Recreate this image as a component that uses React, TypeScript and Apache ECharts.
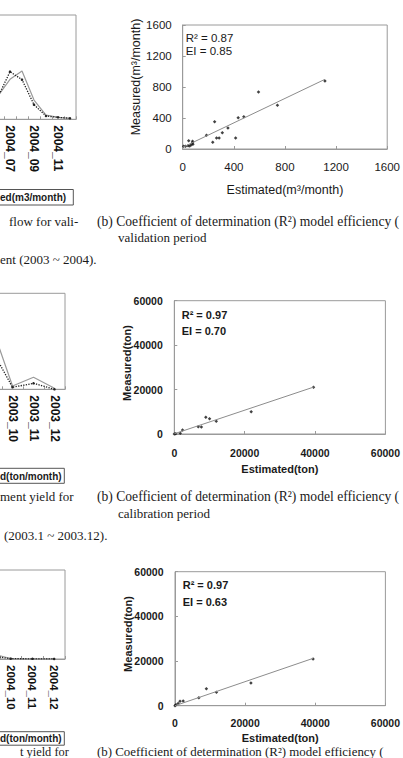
import React, { useEffect, useRef } from "react";
import * as echarts from "echarts";

// ---- left line charts (cut off at the page edge) ----
const flowMonths = ["2004_06", "2004_07", "2004_08", "2004_09", "2004_10", "2004_11", "2004_12"];
const flowEstimated = [450, 767, 926, 370, 82, 38, 19];
const flowMeasured = [430, 913, 760, 280, 63, 38, 19];

const calMonths = ["2003_09", "2003_10", "2003_11", "2003_12"];
const calEstimated = [26600, 1375, 5000, 417];
const calMeasured = [16800, 833, 2500, 0];

const valMonths = ["2004_09", "2004_10", "2004_11", "2004_12"];
const valEstimated = [2700, 225, 100, 50];
const valMeasured = [1500, 150, 80, 40];

// ---- right scatter charts: [estimated, measured] ----
const flowScatter = [
  [1113, 877], [593, 735], [741, 565], [250, 352], [434, 404], [478, 417], [354, 271],
  [310, 210], [186, 176], [265, 142], [285, 142], [414, 142], [235, 86], [47, 107],
  [77, 99], [77, 80], [67, 55], [42, 43], [22, 35], [7, 35], [55, 40], [80, 60],
];
const flowTrend = [[0, 22], [1113, 899]];

const calScatter = [
  [39570, 21030], [21850, 10050], [11920, 5700], [8960, 7520], [10030, 6900],
  [6800, 3300], [7700, 3150], [2340, 1800], [1700, 300], [0, 0], [400, 100],
];
const calTrend = [[0, 100], [39570, 21100]];

const valScatter = [
  [39380, 20900], [21660, 10150], [11810, 5990], [8950, 7600], [6800, 3600],
  [2330, 2100], [1430, 1950], [900, 1000], [270, 450], [0, 0],
];
const valTrend = [[0, 0], [39380, 21200]];

const flowAxisMax = 1600;
const flowAxisStep = 400;
const tonAxisMax = 60000;
const tonAxisStep = 20000;
const flowLineMax = 2000;
const tonLineMax = 40000;

const SANS = "Liberation Sans";
const SERIF = "Liberation Serif";
const GRAY = "#9a9a9a";
// the canvas extends past the page's left edge so the left charts are cut off there
const OX = 40;

function lineXAxis(gi: number, data: string[], intervalFn: (i: number) => boolean, fs: number) {
  return {
    gridIndex: gi,
    type: "category",
    data,
    boundaryGap: true,
    axisLine: { lineStyle: { color: GRAY } },
    axisTick: { show: true, inside: true, length: 3, interval: 0, lineStyle: { color: GRAY } },
    axisLabel: {
      rotate: -90,
      interval: (i: number) => intervalFn(i),
      margin: 6,
      fontFamily: SANS,
      fontWeight: "bold",
      fontSize: fs,
      color: "#111",
    },
    splitLine: { show: false },
  };
}

function lineYAxis(gi: number, max: number) {
  return {
    gridIndex: gi,
    type: "value",
    min: 0,
    max,
    axisLine: { show: false },
    axisTick: { show: false },
    axisLabel: { show: false },
    splitLine: { show: false },
  };
}

function scatterAxis(gi: number, max: number, step: number, bold: boolean, fs: number, margin: number, extra: any) {
  return {
    gridIndex: gi,
    type: "value",
    min: 0,
    max,
    interval: step,
    axisLine: { lineStyle: { color: GRAY } },
    axisTick: { inside: true, length: 3, lineStyle: { color: GRAY } },
    axisLabel: {
      margin,
      color: "#1a1a1a",
      fontFamily: SANS,
      fontSize: fs,
      fontWeight: bold ? "bold" : "normal",
      formatter: (v: number) => String(v),
    },
    splitLine: { show: false },
    ...extra,
  };
}

function txt(text: string, x: number, y: number, opts: any = {}) {
  return {
    type: "text",
    x: x + OX,
    y,
    rotation: opts.rotation || 0,
    style: {
      text,
      fontFamily: opts.font || SERIF,
      fontSize: opts.size || 13,
      fontWeight: opts.weight || "normal",
      fill: opts.fill || "#1a1a1a",
      align: opts.align || "left",
      verticalAlign: "middle",
    },
  };
}

export default function App() {
  const ref = useRef<HTMLDivElement>(null);

  useEffect(() => {
    if (!ref.current) return;
    const chart = echarts.init(ref.current, undefined, { renderer: "svg" });

    const gridBase = { show: true, borderColor: GRAY, borderWidth: 1, containLabel: false };

    const option: any = {
      animation: false,
      backgroundColor: "#ffffff",
      grid: [
        { ...gridBase, left: OX - 8, top: 15, width: 84, height: 104.3 },
        { ...gridBase, left: OX - 19, top: 293.3, width: 84, height: 96 },
        { ...gridBase, left: OX - 21.8, top: 570, width: 86.8, height: 89 },
        { ...gridBase, left: OX + 182.7, top: 25, width: 215.3, height: 124 },
        { ...gridBase, left: OX + 174.3, top: 300.7, width: 224.7, height: 133.3 },
        { ...gridBase, left: OX + 175, top: 571.7, width: 224, height: 134 },
      ],
      xAxis: [
        lineXAxis(0, flowMonths, (i) => i % 2 === 1, 12),
        lineXAxis(1, calMonths, (i) => i > 0, 12),
        lineXAxis(2, valMonths, (i) => i > 0, 11.5),
        scatterAxis(3, flowAxisMax, flowAxisStep, false, 11.5, 12, {
          name: "Estimated(m³/month)",
          nameLocation: "middle",
          nameGap: 34,
          nameTextStyle: { fontFamily: SANS, fontSize: 12.5, color: "#1a1a1a" },
        }),
        scatterAxis(4, tonAxisMax, tonAxisStep, true, 10.5, 13, {
          name: "Estimated(ton)",
          nameLocation: "middle",
          nameGap: 29,
          nameTextStyle: { fontFamily: SANS, fontSize: 11, fontWeight: "bold", color: "#1a1a1a" },
        }),
        scatterAxis(5, tonAxisMax, tonAxisStep, true, 10.5, 12, {
          name: "Estimated(ton)",
          nameLocation: "middle",
          nameGap: 27,
          nameTextStyle: { fontFamily: SANS, fontSize: 11, fontWeight: "bold", color: "#1a1a1a" },
        }),
      ],
      yAxis: [
        lineYAxis(0, flowLineMax),
        lineYAxis(1, tonLineMax),
        lineYAxis(2, tonLineMax),
        scatterAxis(3, flowAxisMax, flowAxisStep, false, 11.5, 11, {}),
        scatterAxis(4, tonAxisMax, tonAxisStep, true, 10.5, 11.5, {}),
        scatterAxis(5, tonAxisMax, tonAxisStep, true, 10.5, 11.5, {}),
      ],
      series: [
        // left line charts
        { type: "line", xAxisIndex: 0, yAxisIndex: 0, data: flowEstimated, symbol: "none", lineStyle: { color: GRAY, width: 1.2 } },
        { type: "line", xAxisIndex: 0, yAxisIndex: 0, data: flowMeasured, symbol: "circle", symbolSize: 2.5, itemStyle: { color: "#222" }, lineStyle: { color: "#222", width: 1.3, type: "dotted" } },
        { type: "line", xAxisIndex: 1, yAxisIndex: 1, data: calEstimated, symbol: "none", lineStyle: { color: GRAY, width: 1.2 } },
        { type: "line", xAxisIndex: 1, yAxisIndex: 1, data: calMeasured, symbol: "circle", symbolSize: 2.5, itemStyle: { color: "#222" }, lineStyle: { color: "#222", width: 1.3, type: "dotted" } },
        { type: "line", xAxisIndex: 2, yAxisIndex: 2, data: valEstimated, symbol: "none", lineStyle: { color: GRAY, width: 1.2 } },
        { type: "line", xAxisIndex: 2, yAxisIndex: 2, data: valMeasured, symbol: "circle", symbolSize: 2.5, itemStyle: { color: "#222" }, lineStyle: { color: "#222", width: 1.3, type: "dotted" } },
        // right scatter charts
        { type: "line", xAxisIndex: 3, yAxisIndex: 3, data: flowTrend, symbol: "none", lineStyle: { color: "#8c8c8c", width: 1 } },
        { type: "scatter", xAxisIndex: 3, yAxisIndex: 3, data: flowScatter, symbol: "diamond", symbolSize: 3.5, itemStyle: { color: "#111" } },
        { type: "line", xAxisIndex: 4, yAxisIndex: 4, data: calTrend, symbol: "none", lineStyle: { color: "#8c8c8c", width: 1 } },
        { type: "scatter", xAxisIndex: 4, yAxisIndex: 4, data: calScatter, symbol: "diamond", symbolSize: 3.5, itemStyle: { color: "#111" } },
        { type: "line", xAxisIndex: 5, yAxisIndex: 5, data: valTrend, symbol: "none", lineStyle: { color: "#8c8c8c", width: 1 } },
        { type: "scatter", xAxisIndex: 5, yAxisIndex: 5, data: valScatter, symbol: "diamond", symbolSize: 3.5, itemStyle: { color: "#111" } },
      ],
      graphic: [
        // y axis names
        txt("Measured(m³/month)", 136, 77, { font: SANS, size: 12.5, rotation: Math.PI / 2, align: "center" }),
        txt("Measured(ton)", 127, 363, { font: SANS, size: 11, weight: "bold", rotation: Math.PI / 2, align: "center" }),
        txt("Measured(ton)", 128, 634, { font: SANS, size: 11, weight: "bold", rotation: Math.PI / 2, align: "center" }),
        // annotations
        txt("R² = 0.87", 185.7, 37.7, { font: SANS, size: 11.5 }),
        txt("EI = 0.85", 185.7, 51, { font: SANS, size: 11.5 }),
        txt("R² = 0.97", 181.7, 315, { font: SANS, size: 11, weight: "bold" }),
        txt("EI = 0.70", 181.7, 331, { font: SANS, size: 11, weight: "bold" }),
        txt("R² = 0.97", 182.7, 585.3, { font: SANS, size: 11, weight: "bold" }),
        txt("EI = 0.63", 182.7, 602, { font: SANS, size: 11, weight: "bold" }),
        // legend boxes (cut off at the page edge)
        { type: "rect", shape: { x: OX - 5, y: 189.5, width: 78.3, height: 15.5 }, style: { fill: "none", stroke: "#555", lineWidth: 1 } },
        txt("ed(m3/month)", 0, 197.5, { font: SANS, size: 10, weight: "bold" }),
        { type: "rect", shape: { x: OX - 5, y: 468.3, width: 69.3, height: 15 }, style: { fill: "none", stroke: "#555", lineWidth: 1 } },
        txt("d(ton/month)", 0, 476, { font: SANS, size: 10, weight: "bold" }),
        { type: "rect", shape: { x: OX - 5, y: 731.7, width: 69.3, height: 13.5 }, style: { fill: "none", stroke: "#555", lineWidth: 1 } },
        txt("d(ton/month)", 0, 738.5, { font: SANS, size: 10, weight: "bold" }),
        // captions
        txt("flow for vali-", 9, 221),
        txt("(b) Coefficient of determination (R²) model efficiency (", 97, 221, { size: 13.6 }),
        txt("validation period", 118, 237),
        txt("ent (2003 ~ 2004).", 0, 259),
        txt("ment yield for", 0, 496),
        txt("(b) Coefficient of determination (R²) model efficiency (", 97, 496, { size: 13.6 }),
        txt("calibration period", 118, 513),
        txt("(2003.1 ~ 2003.12).", 4, 535),
        txt("t yield for", 20, 752, { size: 12.4 }),
        txt("(b) Coefficient of determination (R²) model efficiency (", 97, 752, { size: 12.9 }),
      ],
    };

    chart.setOption(option);
    return () => chart.dispose();
  }, []);

  return (
    <div
      ref={ref}
      style={{ position: "fixed", left: -OX, top: 0, width: 403 + OX, height: 758, background: "#fff" }}
    />
  );
}
